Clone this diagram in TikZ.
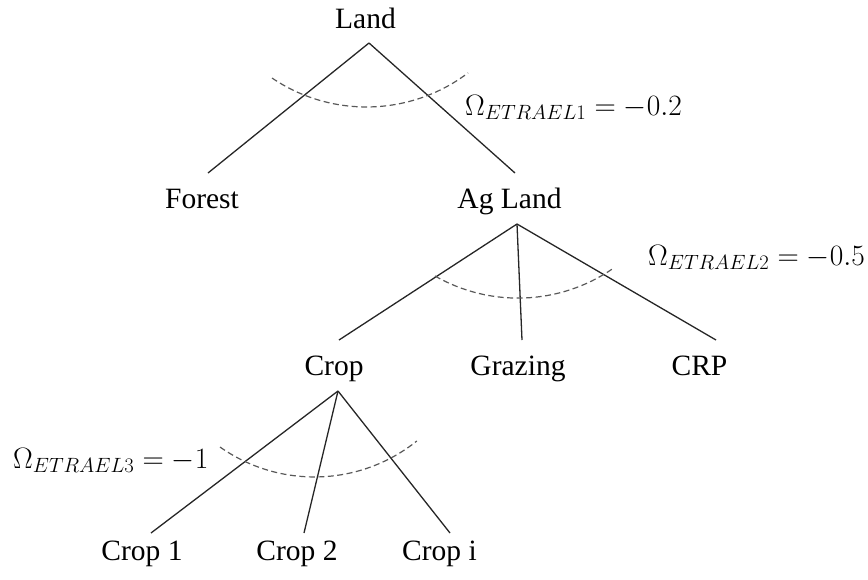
\RequirePackage{fix-cm}
\documentclass[tikz,border=0pt]{standalone}
\usepackage{fontspec}
\newfontfamily\tnr{Liberation Serif}
\begin{document}
\begin{tikzpicture}[x=1pt,y=-1pt,
  term/.style={font=\tnr\fontsize{29.5}{34}\selectfont, anchor=base, inner sep=0pt, text=black},
  elast/.style={font=\fontsize{29.5}{34}\selectfont, anchor=base west, inner sep=0pt, text=black},
  branch/.style={draw=black!85, line width=1.3pt},
  nest/.style={draw=black!65, line width=1.2pt, dash pattern=on 6pt off 3.5pt}]
\useasboundingbox (0,0) rectangle (868,579);

% land-use categories
\node[term] (land)    at (365.5,28)  {Land};
\node[term] (forest)  at (202,208)   {Forest};
\node[term] (agland)  at (509.5,208) {Ag Land};
\node[term] (crop)    at (334,375)   {Crop};
\node[term] (grazing) at (518,375)   {Grazing};
\node[term] (crp)     at (699.5,375) {CRP};
\node[term] (crop1)   at (142,560)   {Crop 1};
\node[term] (crop2)   at (297,560)   {Crop 2};
\node[term] (cropi)   at (439.5,560) {Crop i};

% branch points below each parent and attach points above each child
\coordinate (land-fork)   at (369,43);
\coordinate (agland-fork) at (517,224);
\coordinate (crop-fork)   at (338,391);
\coordinate (forest-in)   at (208,173);
\coordinate (agland-in)   at (515,173);
\coordinate (crop-in)     at (339,340);
\coordinate (grazing-in)  at (522,340);
\coordinate (crp-in)      at (716,340);
\coordinate (crop1-in)    at (151,533);
\coordinate (crop2-in)    at (304,533);
\coordinate (cropi-in)    at (450,533);

% nesting branches
\draw[branch] (land-fork) -- (forest-in);
\draw[branch] (land-fork) -- (agland-in);
\draw[branch] (agland-fork) -- (crop-in);
\draw[branch] (agland-fork) -- (grazing-in);
\draw[branch] (agland-fork) -- (crp-in);
\draw[branch] (crop-fork) -- (crop1-in);
\draw[branch] (crop-fork) -- (crop2-in);
\draw[branch] (crop-fork) -- (cropi-in);

% transformation elasticity arcs
\draw[nest] (272,78)  arc[start angle=235.9, end angle=307.1, radius=168.5pt];
\draw[nest] (435,276) arc[start angle=240.2, end angle=304.3, radius=167.1pt];
\draw[nest] (220,447) arc[start angle=234.8, end angle=308.7, radius=163.8pt];

% elasticity values
\node[elast] (omega1) at (465,115) {$\Omega_{ETRAEL1} = -0.2$};
\node[elast] (omega2) at (648,265) {$\Omega_{ETRAEL2} = -0.5$};
\node[elast] (omega3) at (13,468)  {$\Omega_{ETRAEL3} = -1$};
\end{tikzpicture}
\end{document}
